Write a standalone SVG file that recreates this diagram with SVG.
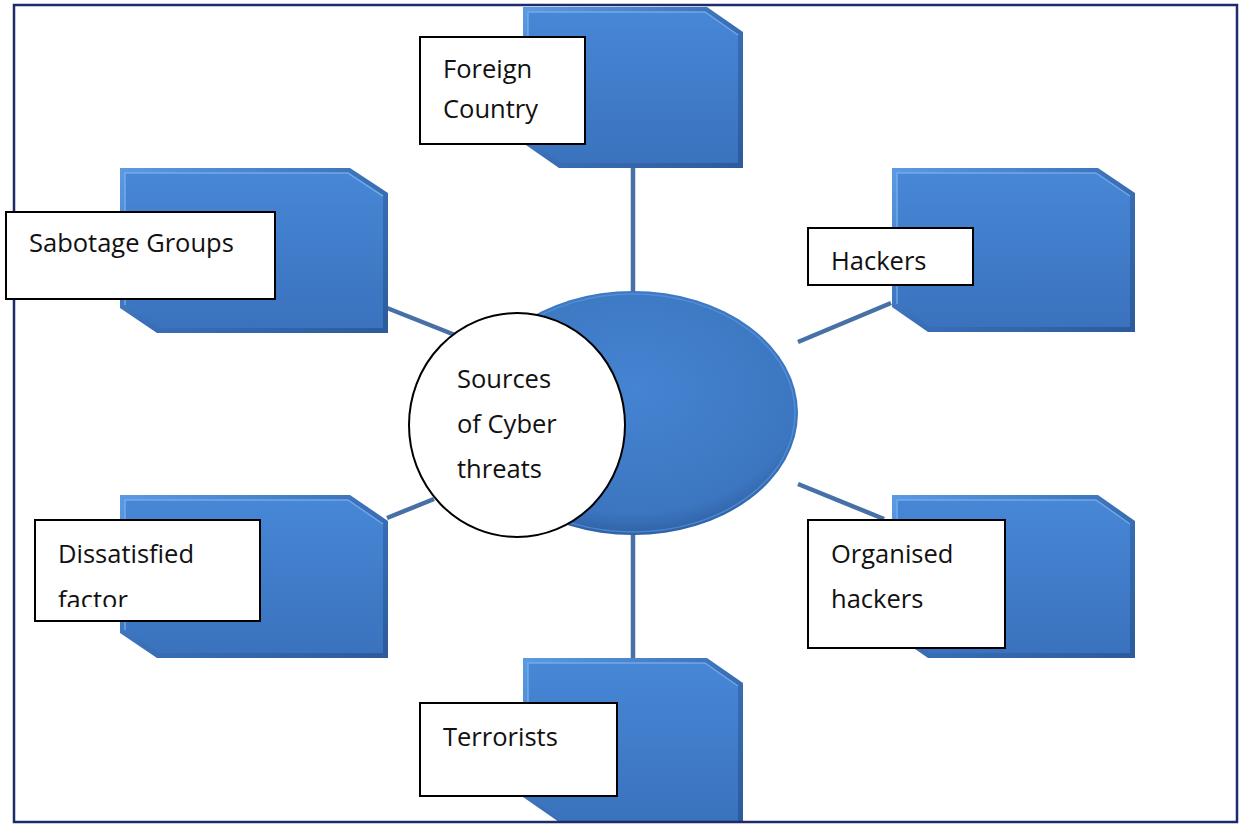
<svg xmlns="http://www.w3.org/2000/svg" width="1241" height="824" viewBox="0 0 1241 824">
  <style>
    .edge { fill: url(#edgeGrad); }
    .face { fill: url(#faceGrad); }
    .hl { fill: none; stroke: #7db2ee; stroke-width: 1.5; stroke-opacity: 0.8; }
    .label { fill: #ffffff; stroke: #000000; stroke-width: 2; }
    .txt { font-family: "Open Sans", "Liberation Sans", sans-serif; font-size: 25.5px; fill: #111111; }
    .conn { stroke: #4670a6; stroke-width: 4.5; stroke-linecap: butt; fill: none; }
  </style>
  <defs>
    <linearGradient id="faceGrad" x1="0" y1="0" x2="0" y2="1">
      <stop offset="0" stop-color="#4787d6"/>
      <stop offset="1" stop-color="#3a72bd"/>
    </linearGradient>
    <linearGradient id="edgeGrad" x1="0" y1="0" x2="1" y2="1">
      <stop offset="0" stop-color="#5b9ae4"/>
      <stop offset="0.5" stop-color="#3a70b8"/>
      <stop offset="1" stop-color="#2c5b9b"/>
    </linearGradient>
    <radialGradient id="ovalGrad" cx="0.5" cy="0.4" r="0.6">
      <stop offset="0" stop-color="#4584d2"/>
      <stop offset="0.85" stop-color="#3c76c0"/>
      <stop offset="1" stop-color="#2f62a6"/>
    </radialGradient>
    <!-- text frame of the two-line box cuts the second line short -->
    <clipPath id="clipFactor">
      <rect x="36" y="521" width="223" height="86"/>
    </clipPath>
  </defs>

  <!-- connectors from the hub to each source -->
  <g id="connectors">
    <line class="conn" x1="633" y1="168" x2="633" y2="294"/>
    <line class="conn" x1="633" y1="533" x2="633" y2="658"/>
    <line class="conn" x1="387" y1="308" x2="455" y2="335"/>
    <line class="conn" x1="387" y1="518" x2="434" y2="499"/>
    <line class="conn" x1="798" y1="342" x2="891" y2="303"/>
    <line class="conn" x1="798" y1="484" x2="884" y2="519"/>
  </g>

  <!-- Foreign Country -->
  <g id="node-foreign-country">
    <path class="edge" d="M523,7 H707 L743,32 V168 H559 L523,143 Z"/>
    <path class="face" d="M528,12 H705 L738,35 V163 H561 L528,140 Z"/>
    <path class="hl" d="M528,140 V12 H705 L738,35"/>
  </g>

  <!-- Sabotage Groups -->
  <g id="node-sabotage-groups">
    <path class="edge" d="M120,168 H350 L388,193 V333 H157 L120,308 Z"/>
    <path class="face" d="M125,173 H348 L383,196 V328 H159 L125,305 Z"/>
    <path class="hl" d="M125,305 V173 H348 L383,196"/>
  </g>

  <!-- Hackers -->
  <g id="node-hackers">
    <path class="edge" d="M892,168 H1098 L1135,193 V332 H928 L892,307 Z"/>
    <path class="face" d="M897,173 H1096 L1130,196 V327 H930 L897,304 Z"/>
    <path class="hl" d="M897,304 V173 H1096 L1130,196"/>
  </g>

  <!-- Dissatisfied factor -->
  <g id="node-dissatisfied-factor">
    <path class="edge" d="M120,495 H350 L388,521 V658 H157 L120,633 Z"/>
    <path class="face" d="M125,500 H348 L383,524 V653 H159 L125,630 Z"/>
    <path class="hl" d="M125,630 V500 H348 L383,524"/>
  </g>

  <!-- Organised hackers -->
  <g id="node-organised-hackers">
    <path class="edge" d="M892,495 H1098 L1135,521 V658 H928 L892,633 Z"/>
    <path class="face" d="M897,500 H1096 L1130,524 V653 H930 L897,630 Z"/>
    <path class="hl" d="M897,630 V500 H1096 L1130,524"/>
  </g>

  <!-- Terrorists -->
  <g id="node-terrorists">
    <path class="edge" d="M523,658 H707 L743,683 V822 H559 L523,797 Z"/>
    <path class="face" d="M528,663 H705 L738,686 V822 H561 L528,794 Z"/>
    <path class="hl" d="M528,794 V663 H705 L738,686"/>
  </g>

  <!-- frame -->
  <rect id="frame" x="14" y="5" width="1223" height="817" fill="none" stroke="#1d2b6b" stroke-width="2.5"/>

  <!-- text boxes -->
  <g id="label-foreign-country">
    <rect class="label" x="420" y="37" width="165" height="107"/>
    <text class="txt" x="443" y="78">Foreign</text>
    <text class="txt" x="443" y="118">Country</text>
  </g>
  <g id="label-sabotage-groups">
    <rect class="label" x="6" y="212" width="269" height="87"/>
    <text class="txt" x="29" y="252">Sabotage Groups</text>
  </g>
  <g id="label-hackers">
    <rect class="label" x="808" y="228" width="165" height="57"/>
    <text class="txt" x="831" y="270">Hackers</text>
  </g>
  <g id="label-dissatisfied-factor">
    <rect class="label" x="35" y="520" width="225" height="101"/>
    <text class="txt" x="58" y="563">Dissatisfied</text>
    <text class="txt" x="58" y="609" clip-path="url(#clipFactor)">factor</text>
  </g>
  <g id="label-organised-hackers">
    <rect class="label" x="808" y="520" width="197" height="128"/>
    <text class="txt" x="831" y="563">Organised</text>
    <text class="txt" x="831" y="608">hackers</text>
  </g>
  <g id="label-terrorists">
    <rect class="label" x="420" y="703" width="197" height="93"/>
    <text class="txt" x="443" y="746">Terrorists</text>
  </g>

  <!-- central hub -->
  <g id="node-hub">
    <ellipse cx="633" cy="413" rx="165" ry="122" fill="url(#ovalGrad)"/>
    <ellipse cx="633" cy="413" rx="162" ry="119" fill="none" stroke="#5f9be2" stroke-width="1.5" stroke-opacity="0.6"/>
    <ellipse cx="517" cy="425" rx="108" ry="112" fill="#ffffff" stroke="#000000" stroke-width="2"/>
    <text class="txt" x="457" y="388">Sources</text>
    <text class="txt" x="457" y="433">of Cyber</text>
    <text class="txt" x="457" y="478">threats</text>
  </g>
</svg>
